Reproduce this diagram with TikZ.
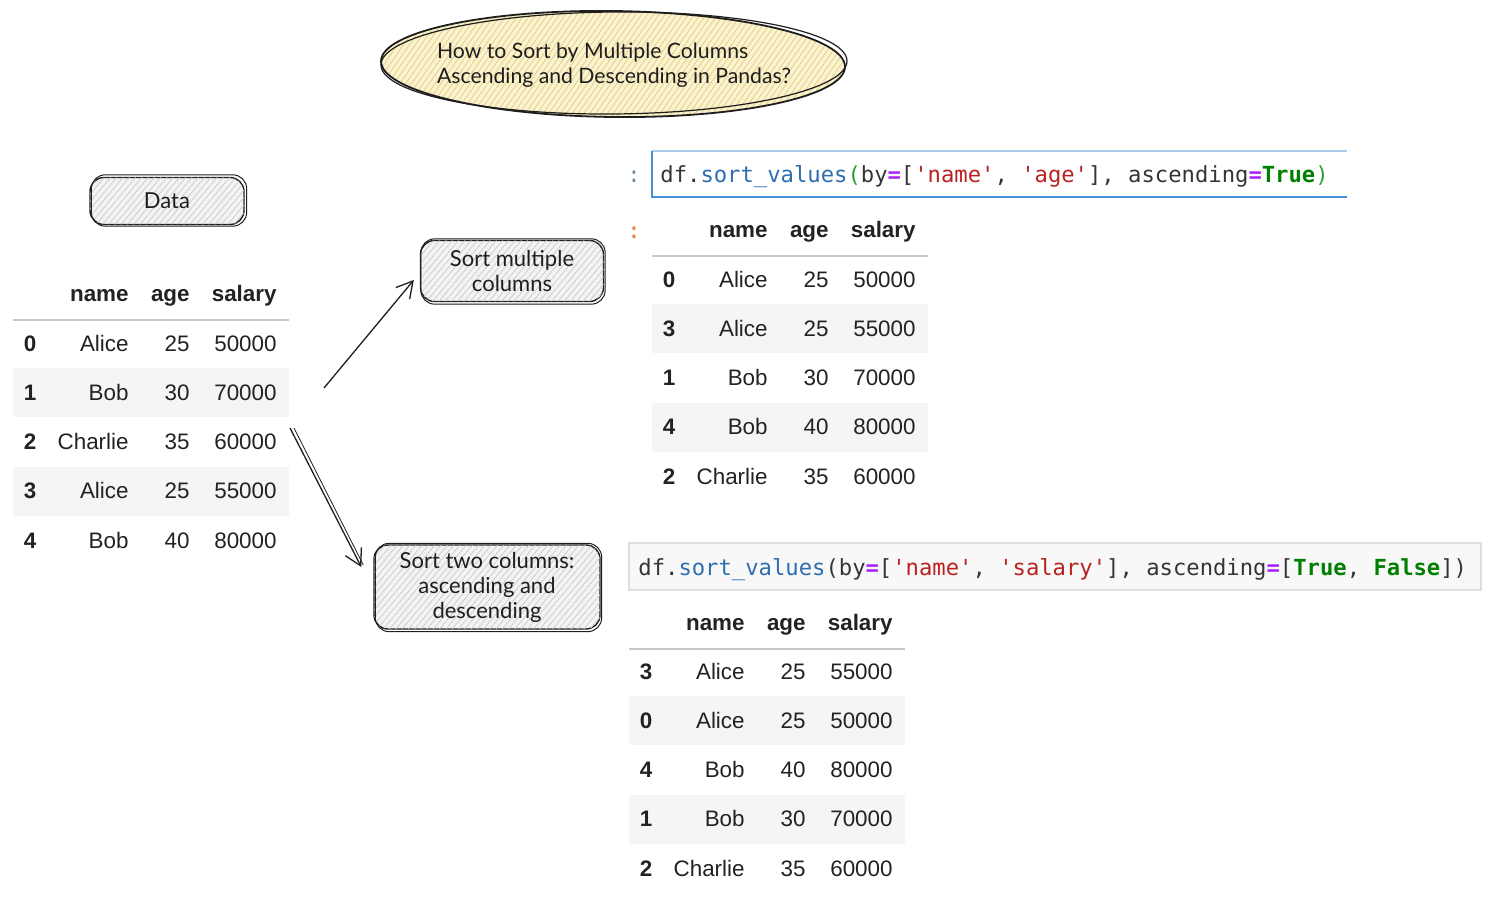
\documentclass[tikz,border=0pt]{standalone}
\usepackage{fontspec}
\setmainfont{Liberation Sans}
\newfontfamily\monof{DejaVu Sans Mono}
\newfontfamily\handf{Lato}
\usetikzlibrary{arrows.meta,patterns.meta,shapes.geometric}
\definecolor{tabtext}{HTML}{222222}
\definecolor{stripe}{HTML}{F5F5F5}
\definecolor{hline}{HTML}{C8C8C8}
\definecolor{cblue}{HTML}{2D6DB0}
\definecolor{cmatch}{HTML}{2E9B3A}
\definecolor{cop}{HTML}{AA22FF}
\definecolor{cstr}{HTML}{BA2121}
\definecolor{ckw}{HTML}{008000}
\definecolor{ink}{HTML}{1E1E1E}
\definecolor{titlefill}{HTML}{FBF3CF}
\definecolor{titlehatch}{HTML}{E3CF86}
\definecolor{boxfill}{HTML}{F3F3F3}
\definecolor{boxhatch}{HTML}{C9C9C9}
\definecolor{cellblue}{HTML}{4A90D9}
\definecolor{celltop}{HTML}{A8CBEC}
\definecolor{promptA}{HTML}{6F8AA6}
\definecolor{promptB}{HTML}{E0783A}
\newcommand\sq{\char"27}
\tikzset{
  cell/.style={inner sep=0pt, text=tabtext, font=\fontsize{11.2}{13}\selectfont},
  hcell/.style={cell, font=\fontsize{11.2}{13}\selectfont\bfseries},
  handbox/.style={draw=ink, line width=0.7pt, rounded corners=7pt, fill=boxfill,
     postaction={pattern={Lines[angle=50,distance=2.4pt,line width=0.35pt]}, pattern color=boxhatch},
     font=\handf\fontsize{11}{12.5}\selectfont, text=ink, align=center, inner sep=0pt},
  sketcharrow/.style={draw=ink, line width=0.65pt, -{Straight Barb[length=8pt,width=9pt,line width=0.65pt]}},
  codetext/.style={inner sep=0pt, font=\monof\fontsize{11.1}{13}\selectfont, text=ink!90},
}
\begin{document}
\begin{tikzpicture}[x=0.5pt,y=-0.5pt]
\useasboundingbox (0,0) rectangle (1491,914);

% ---------- title ellipse ----------
\fill[titlefill, rotate around={-0.7:(613,64)}] (613,64) ellipse (232 and 53);
\fill[pattern={Lines[angle=55,distance=2.4pt,line width=0.4pt]}, pattern color=titlehatch, rotate around={-0.7:(613,64)}] (613,64) ellipse (232 and 53);
\draw[ink, line width=0.9pt, rotate around={-0.7:(613,64)}] (613,64) ellipse (232 and 53);
\draw[ink, line width=0.6pt, rotate around={0.5:(613,64)}] (614,63) ellipse (233 and 51);
\node[inner sep=0pt, font=\handf\fontsize{10.6}{12.5}\selectfont, text=ink, align=left] (title) at (614,65)
      {How to Sort by Multiple Columns\\Ascending and Descending in Pandas?};

% ---------- hand boxes ----------
\node[handbox, minimum width=77pt, minimum height=23.5pt] (data) at (167,201) {Data};
\draw[ink, line width=0.5pt, rounded corners=7pt] ([shift={(2,-2)}]data.north west) rectangle ([shift={(2,1)}]data.south east);

\node[handbox, minimum width=91.5pt, minimum height=30.5pt] (multi) at (512,271) {Sort multiple\\columns};
\draw[ink, line width=0.5pt, rounded corners=7pt] ([shift={(1,-1)}]multi.north west) rectangle ([shift={(1,2)}]multi.south east);

\node[handbox, minimum width=113pt, minimum height=42pt] (two) at (487,587) {Sort two columns:\\ascending and\\descending};
\draw[ink, line width=0.5pt, rounded corners=7pt] ([shift={(2,-1)}]two.north west) rectangle ([shift={(1,2)}]two.south east);

% ---------- arrows ----------
\coordinate (a1s) at (324,388);
\coordinate (a2s) at (290,428);
\draw[sketcharrow] (a1s) -- ([shift={(-6,9)}]multi.west);
\draw[sketcharrow] (a2s) -- ([shift={(-12,-20)}]two.west);
\draw[ink, line width=0.4pt] ([xshift=2]a2s) -- ([shift={(-10,-22)}]two.west);

% ---------- left table ----------
\fill[stripe] (13,368) rectangle (289,417);
\fill[stripe] (13,467) rectangle (289,516);
\draw[hline, line width=0.7pt] (13,320) -- (289,320);
\node[hcell, anchor=base east] (Lhn) at (129,301) {name};
\node[hcell, anchor=base east] (Lha) at (190,301) {age};
\node[hcell, anchor=base east] (Lhs) at (277,301) {salary};
\foreach \r/\i/\n/\a/\s in {0/0/Alice/25/50000,1/1/Bob/30/70000,2/2/Charlie/35/60000,3/3/Alice/25/55000,4/4/Bob/40/80000}{
  \pgfmathsetmacro\yy{351+49.25*\r}
  \node[hcell, anchor=base] (L\r i) at (30,\yy) {\i};
  \node[cell, anchor=base east] (L\r n) at (129,\yy) {\n};
  \node[cell, anchor=base east] (L\r a) at (190,\yy) {\a};
  \node[cell, anchor=base east] (L\r s) at (277,\yy) {\s};
}

% ---------- top right: code cell ----------
\node[inner sep=0pt, font=\monof\fontsize{11.1}{13}\selectfont, text=promptA, anchor=base] (p1) at (634,183) {:};
\draw[celltop, line width=0.8pt] (652,151) -- (1347,151);
\draw[cellblue, line width=1pt] (652,151) -- (652,197) -- (1347,197);
\node[codetext, anchor=base west] (code1) at (660,183)
 {df.\textcolor{cblue}{sort\_values}\textcolor{cmatch}{(}by\textcolor{cop}{\textbf{=}}[\textcolor{cstr}{\sq name\sq}, \textcolor{cstr}{\sq age\sq}], ascending\textcolor{cop}{\textbf{=}}\textcolor{ckw}{\textbf{True}}\textcolor{cmatch}{)}};

\node[inner sep=0pt, font=\monof\fontsize{11.1}{13}\selectfont, text=promptB, anchor=base] (p2) at (634,239) {:};
\fill[stripe] (652,304) rectangle (928,353);
\fill[stripe] (652,403) rectangle (928,452);
\draw[hline, line width=0.7pt] (652,256) -- (928,256);
\node[hcell, anchor=base east] (Rhn) at (768,238) {name};
\node[hcell, anchor=base east] (Rha) at (829,238) {age};
\node[hcell, anchor=base east] (Rhs) at (916,238) {salary};
\foreach \r/\i/\n/\a/\s in {0/0/Alice/25/50000,1/3/Alice/25/55000,2/1/Bob/30/70000,3/4/Bob/40/80000,4/2/Charlie/35/60000}{
  \pgfmathsetmacro\yy{287+49.25*\r}
  \node[hcell, anchor=base] (R\r i) at (669,\yy) {\i};
  \node[cell, anchor=base east] (R\r n) at (768,\yy) {\n};
  \node[cell, anchor=base east] (R\r a) at (829,\yy) {\a};
  \node[cell, anchor=base east] (R\r s) at (916,\yy) {\s};
}

% ---------- bottom right: code cell ----------
\node[draw=hline!60, fill=stripe!70, line width=0.6pt, minimum width=426pt, minimum height=23.5pt, inner sep=0pt] (c2box) at (1055,566.5) {};
\node[codetext, anchor=base west] (code2) at (638,575)
 {df.\textcolor{cblue}{sort\_values}(by\textcolor{cop}{\textbf{=}}[\textcolor{cstr}{\sq name\sq}, \textcolor{cstr}{\sq salary\sq}], ascending\textcolor{cop}{\textbf{=}}[\textcolor{ckw}{\textbf{True}}, \textcolor{ckw}{\textbf{False}}])};

\fill[stripe] (629,696) rectangle (905,745);
\fill[stripe] (629,795) rectangle (905,844);
\draw[hline, line width=0.7pt] (629,649) -- (905,649);
\node[hcell, anchor=base east] (Bhn) at (745,630) {name};
\node[hcell, anchor=base east] (Bha) at (806,630) {age};
\node[hcell, anchor=base east] (Bhs) at (893,630) {salary};
\foreach \r/\i/\n/\a/\s in {0/3/Alice/25/55000,1/0/Alice/25/50000,2/4/Bob/40/80000,3/1/Bob/30/70000,4/2/Charlie/35/60000}{
  \pgfmathsetmacro\yy{679+49.25*\r}
  \node[hcell, anchor=base] (B\r i) at (646,\yy) {\i};
  \node[cell, anchor=base east] (B\r n) at (745,\yy) {\n};
  \node[cell, anchor=base east] (B\r a) at (806,\yy) {\a};
  \node[cell, anchor=base east] (B\r s) at (893,\yy) {\s};
}
\end{tikzpicture}
\end{document}
